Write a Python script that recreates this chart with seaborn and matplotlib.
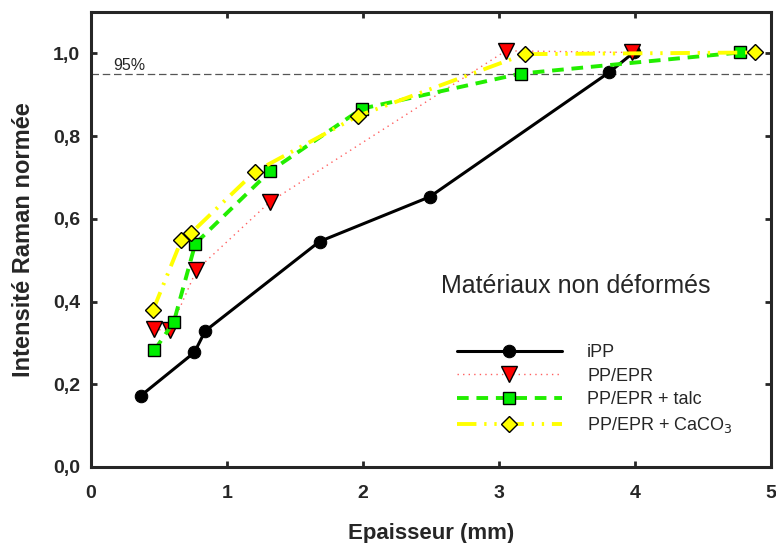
import matplotlib
matplotlib.use("Agg")
import matplotlib.pyplot as plt
import seaborn as sns
import pandas as pd
from matplotlib.ticker import FuncFormatter, MultipleLocator

# ---- data ----
ipp_x = [0.365, 0.76, 0.84, 1.68, 2.49, 3.81, 3.99]
ipp_y = [0.172, 0.277, 0.329, 0.545, 0.653, 0.954, 1.002]

epr_x = [0.46, 0.58, 0.775, 1.316, 3.05, 3.98]
epr_y = [0.333, 0.330, 0.476, 0.641, 1.006, 1.002]

talc_x = [0.466, 0.608, 0.767, 1.316, 1.99, 3.16, 4.77]
talc_y = [0.282, 0.350, 0.540, 0.715, 0.866, 0.951, 1.002]

caco_x = [0.456, 0.664, 0.737, 1.206, 1.965, 3.19, 4.88]
caco_y = [0.379, 0.548, 0.566, 0.714, 0.849, 0.998, 1.002]

labels = ["iPP", "PP/EPR", "PP/EPR + talc", "PP/EPR + CaCO$_3$"]
threshold = 0.95
threshold_label = "95%"
title_text = "Matériaux non déformés"
xlabel = "Epaisseur (mm)"
ylabel = "Intensité Raman normée"

sns.set_style("ticks")
plt.rcParams["font.family"] = ["Liberation Sans", "DejaVu Sans"]

fig = plt.figure(figsize=(7.76, 5.43), dpi=100)
ax = fig.add_axes([0.1173, 0.140, 0.8763, 0.838])

series = [
    (ipp_x, ipp_y, dict(color="black", lw=2.2, linestyle="-", marker="o",
                        markersize=9, markerfacecolor="black", markeredgecolor="black")),
    (epr_x, epr_y, dict(color="#ff6060", lw=1.0, linestyle=(0, (1, 3)), marker="v",
                        markersize=11, markerfacecolor="#ff0000", markeredgecolor="black",
                        markeredgewidth=1.0)),
    (talc_x, talc_y, dict(color="#22ee00", lw=2.8, linestyle=(0, (3, 2)), marker="s",
                          markersize=9, markerfacecolor="#00ee00", markeredgecolor="black",
                          markeredgewidth=1.0)),
    (caco_x, caco_y, dict(color="#ffff00", lw=2.8, linestyle=(0, (5, 2, 0.6, 2, 0.6, 2)), marker="D",
                          markersize=8.5, markerfacecolor="#ffff00", markeredgecolor="black",
                          markeredgewidth=1.0)),
]

for (xs, ys, kw), lab in zip(series, labels):
    df = pd.DataFrame({"x": xs, "y": ys})
    sns.lineplot(data=df, x="x", y="y", ax=ax, sort=False, label=lab, **kw)

ax.axhline(threshold, color="#555555", lw=0.9, dashes=(6, 3), zorder=0)
ax.text(0.16, threshold + 0.003, threshold_label, fontsize=11.5, ha="left", va="bottom")

ax.text(2.57, 0.438, title_text, fontsize=18, ha="left", va="center")

ax.set_xlim(0, 5)
ax.set_ylim(0, 1.10)
ax.xaxis.set_major_locator(MultipleLocator(1))
ax.yaxis.set_major_locator(MultipleLocator(0.2))
ax.yaxis.set_major_formatter(FuncFormatter(lambda v, p: f"{v:.1f}".replace(".", ",")))
ax.xaxis.set_major_formatter(FuncFormatter(lambda v, p: f"{v:.0f}"))

for sp in ax.spines.values():
    sp.set_linewidth(2.2)
    sp.set_visible(True)
ax.tick_params(direction="in", length=4, width=2, top=True, right=True, labelsize=14)
ax.tick_params(axis="x", pad=13)
ax.tick_params(axis="y", pad=8)
for t in ax.get_xticklabels() + ax.get_yticklabels():
    t.set_fontweight("bold")

ax.set_xlabel(xlabel, fontsize=16, fontweight="bold", labelpad=15)
ax.set_ylabel(ylabel, fontsize=17, fontweight="bold", labelpad=13)

leg = ax.legend(loc="upper left", bbox_to_anchor=(0.525, 0.29), frameon=False,
                fontsize=13, handlelength=5.8, handletextpad=1.4, labelspacing=0.37,
                borderpad=0)

fig.savefig("out.png", dpi=100)
